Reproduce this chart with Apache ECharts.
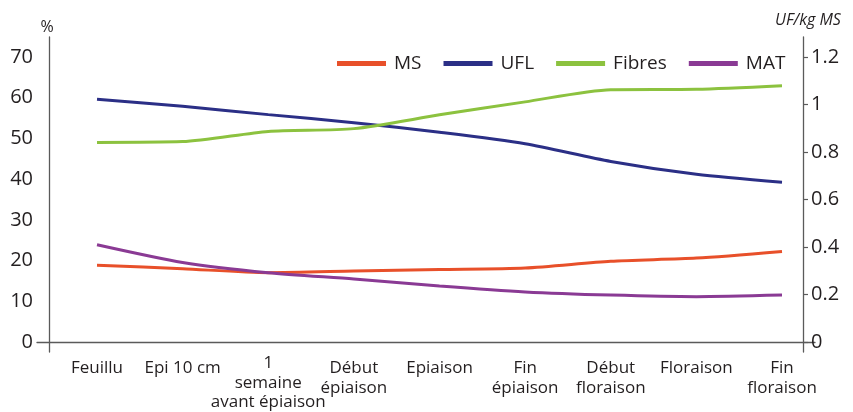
<!DOCTYPE html>
<html>
<head>
<meta charset="utf-8">
<script src="https://cdn.jsdelivr.net/npm/echarts@6/dist/echarts.min.js"></script>
<style>
html,body{margin:0;padding:0;background:#fff;}
#chart{width:853px;height:412px;}
</style>
</head>
<body>
<div id="chart"></div>
<script>
// Categories (stages)
const categories = ['Feuillu', 'Epi 10 cm', '1\nsemaine\navant épiaison', 'Début\népiaison', 'Epiaison', 'Fin\népiaison', 'Début\nfloraison', 'Floraison', 'Fin\nfloraison'];
// Series values
const msValues     = [17.1, 16.2, 15.2, 15.6, 16.0, 16.4, 18.1, 18.9, 20.6];          // %
const uflValues    = [1.016, 0.985, 0.949, 0.914, 0.872, 0.822, 0.745, 0.689, 0.654]; // UF/kg MS
const fibresValues = [48.3, 48.5, 51.1, 51.8, 55.3, 58.6, 61.7, 61.8, 62.7];          // %
const matValues    = [22.3, 17.8, 15.2, 13.6, 11.8, 10.3, 9.5, 9.1, 9.5];             // %
// Axis scales
const leftAxis = {min: 0, max: 70, interval: 10};
const rightAxis = {min: 0, max: 1.2, interval: 0.2};

const FONT = '"Open Sans", sans-serif';
const TXT = '#231f20';
const AX = '#5a5a5a';

const chart = echarts.init(document.getElementById('chart'), null, {renderer: 'canvas'});
const hidden = {show: false};

const catData = categories.map(function (c) {
  if (c.split('\n').length > 2) {
    return {value: c, textStyle: {padding: [-5, 0, 0, 0]}};
  }
  return c;
});

chart.setOption({
  animation: false,
  backgroundColor: '#ffffff',
  textStyle: {fontFamily: FONT, color: TXT},
  legend: {
    left: 337, top: 54, padding: 0,
    itemWidth: 49, itemHeight: 5, itemGap: 22,
    icon: 'rect',
    textStyle: {fontSize: 19, color: TXT, fontFamily: FONT, padding: [0, 0, 0, 3]},
    data: ['MS', 'UFL', 'Fibres', 'MAT']
  },
  grid: [
    {left: 49, right: 50, top: 37, bottom: 60},   // frame: vertical axis lines
    {left: 37, right: 38, top: 57, bottom: 70},   // labels + horizontal axis line
    {left: 97, right: 71, top: 57, bottom: 70}    // data
  ],
  xAxis: [
    {gridIndex: 0, type: 'value', min: 0, max: 1, show: false},
    {gridIndex: 1, type: 'value', min: 0, max: 1,
      axisLine: {show: true, lineStyle: {color: AX, width: 1.3}},
      axisTick: hidden, axisLabel: hidden, splitLine: hidden},
    {gridIndex: 2, type: 'category', data: catData, boundaryGap: false,
      axisLine: hidden, axisTick: hidden, splitLine: hidden,
      axisLabel: {interval: 0, fontSize: 17, lineHeight: 19.5, color: TXT, fontFamily: FONT, margin: 26}}
  ],
  yAxis: [
    {gridIndex: 0, type: 'value', position: 'left', min: 0, max: 1,
      name: '%', nameLocation: 'end', nameGap: 2,
      nameTextStyle: {fontSize: 16, color: TXT, fontFamily: FONT, padding: [0, 4, 0, 0]},
      axisLine: {show: true, lineStyle: {color: AX, width: 1.3}},
      axisTick: hidden, axisLabel: hidden, splitLine: hidden},
    {gridIndex: 0, type: 'value', position: 'right', min: 0, max: 1,
      name: 'UF/kg MS', nameLocation: 'end', nameGap: 9,
      nameTextStyle: {fontSize: 16, fontStyle: 'italic', color: TXT, fontFamily: FONT, padding: [0, 0, 0, 10]},
      axisLine: {show: true, lineStyle: {color: AX, width: 1.3}},
      axisTick: hidden, axisLabel: hidden, splitLine: hidden},
    {gridIndex: 1, type: 'value', position: 'left', min: leftAxis.min, max: leftAxis.max, interval: leftAxis.interval,
      axisLine: hidden, axisTick: hidden, splitLine: hidden,
      axisLabel: {fontSize: 20, color: TXT, fontFamily: FONT, margin: 4}},
    {gridIndex: 1, type: 'value', position: 'right', offset: -12,
      min: rightAxis.min, max: rightAxis.max, interval: rightAxis.interval,
      axisLine: hidden, splitLine: hidden,
      axisTick: {show: true, length: 5, lineStyle: {color: AX, width: 1.2}},
      axisLabel: {fontSize: 20, color: TXT, fontFamily: FONT, margin: 8}},
    {gridIndex: 2, type: 'value', min: leftAxis.min, max: leftAxis.max, show: false},
    {gridIndex: 2, type: 'value', min: rightAxis.min, max: rightAxis.max, show: false}
  ],
  series: [
    {name: 'MS', type: 'line', xAxisIndex: 2, yAxisIndex: 4, data: msValues,
      smooth: 0.25, showSymbol: false, color: '#e8502a', lineStyle: {width: 3}},
    {name: 'UFL', type: 'line', xAxisIndex: 2, yAxisIndex: 5, data: uflValues,
      smooth: 0.25, showSymbol: false, color: '#2b2f86', lineStyle: {width: 3}},
    {name: 'Fibres', type: 'line', xAxisIndex: 2, yAxisIndex: 4, data: fibresValues,
      smooth: 0.25, showSymbol: false, color: '#8cc23f', lineStyle: {width: 3}},
    {name: 'MAT', type: 'line', xAxisIndex: 2, yAxisIndex: 4, data: matValues,
      smooth: 0.25, showSymbol: false, color: '#8a3a94', lineStyle: {width: 3}}
  ]
});
</script>
</body>
</html>
